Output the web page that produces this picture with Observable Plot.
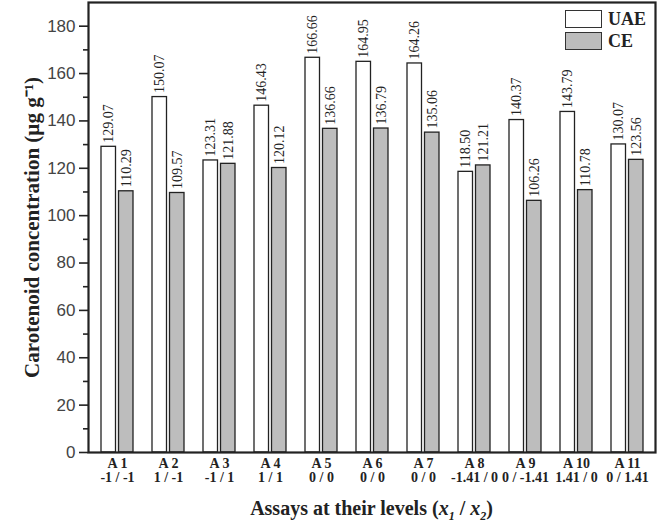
<!DOCTYPE html>
<html>
<head>
<meta charset="utf-8">
<script src="https://cdn.jsdelivr.net/npm/d3@7"></script>
<script src="https://cdn.jsdelivr.net/npm/@observablehq/plot@0.6"></script>
<style>
  body { margin: 0; background: #fff; }
  #wrap { position: relative; width: 661px; height: 529px; }
  #chart svg { display: block; }
  g[aria-label="y-axis label"] text { font: bold 21px "Liberation Serif", "Times New Roman", serif; fill: #222; }
  #xtitle { position: absolute; left: 88px; width: 567px; top: 497px; text-align: center;
    font: bold 20px "Liberation Serif", "Times New Roman", serif; color: #222; }
  #xtitle sub { font-size: 12px; }
  #legend { position: absolute; left: 565px; top: 8px; font: bold 18px "Liberation Serif", serif; color: #222; }
  #legend .row { display: flex; align-items: center; height: 22px; }
  #legend .sw { width: 37px; height: 18px; border: 1.5px solid #333; margin-right: 6px; box-sizing: border-box; }
</style>
</head>
<body>
<div id="wrap">
  <div id="chart"></div>
  <div id="legend">
    <div class="row"><div class="sw" style="background:#fff"></div>UAE</div>
    <div class="row"><div class="sw" style="background:#bdbdbd"></div>CE</div>
  </div>
  <div id="xtitle">Assays at their levels (<i>x</i><sub><i>1</i></sub> / <i>x</i><sub><i>2</i></sub>)</div>
</div>
<script>
const assays = ["A1","A2","A3","A4","A5","A6","A7","A8","A9","A10","A11"];
const levels = ["-1 / -1","1 / -1","-1 / 1","1 / 1","0 / 0","0 / 0","0 / 0","-1.41 / 0","0 / -1.41","1.41 / 0","0 / 1.41"];
const uae = [129.07,150.07,123.31,146.43,166.66,164.95,164.26,118.50,140.37,143.79,130.07];
const ce  = [110.29,109.57,121.88,120.12,136.66,136.79,135.06,121.21,106.26,110.78,123.56];
const yMajor = [0,20,40,60,80,100,120,140,160,180];
const yMinor = [10,30,50,70,90,110,130,150,170];

const uaeRows = assays.map((a,i) => ({assay:a, value:uae[i]}));
const ceRows  = assays.map((a,i) => ({assay:a, value:ce[i]}));
const levelOf = Object.fromEntries(assays.map((a,i)=>[a, levels[i]]));

const half = 17.5;
const serif = "Liberation Serif, Times New Roman, serif";

const chart = Plot.plot({
  width: 661,
  height: 495,
  marginLeft: 88,
  marginRight: 6,
  marginTop: 2,
  marginBottom: 43,
  style: {background: "#fff", color: "#222"},
  x: {domain: assays, paddingInner: 0.378, paddingOuter: 0.2},
  y: {domain: [0,190]},
  marks: [
    Plot.barY(uaeRows, {x:"assay", y:"value", fill:"#fff", stroke:"#222", strokeWidth:1.3, insetRight: half}),
    Plot.barY(ceRows,  {x:"assay", y:"value", fill:"#bdbdbd", stroke:"#222", strokeWidth:1.3, insetLeft: half}),
    Plot.text(uaeRows, {x:"assay", y:"value", text: d => d.value.toFixed(2), rotate:-90, textAnchor:"start", lineAnchor:"middle", dx:-8.75, dy:-4, fontSize:14, fontFamily: serif, fill:"#222"}),
    Plot.text(ceRows,  {x:"assay", y:"value", text: d => d.value.toFixed(2), rotate:-90, textAnchor:"start", lineAnchor:"middle", dx:8.75, dy:-4, fontSize:14, fontFamily: serif, fill:"#222"}),
    Plot.axisY({ticks: yMajor, tickSize: 9, tickPadding: 4, fontSize: 17, fontFamily: "Liberation Sans, Arial, sans-serif", fill:"#444", strokeWidth: 1.6,
      label: "Carotenoid concentration (µg g⁻¹)", labelAnchor: "center", labelOffset: 64, labelArrow: "none"}),
    Plot.axisY({ticks: yMinor, tickSize: 5, tickFormat: () => "", label: null, strokeWidth: 1.6}),
    Plot.axisX({tickSize: 0, tickPadding: 6, fontSize: 14, fontWeight: "bold", fontFamily: serif, fill:"#222",
      tickFormat: a => a.replace(/(\d+)/, " $1") + "\n" + levelOf[a], label: null}),
    Plot.frame({stroke:"#222", strokeWidth: 2.2})
  ]
});
document.getElementById("chart").appendChild(chart);
</script>
</body>
</html>
